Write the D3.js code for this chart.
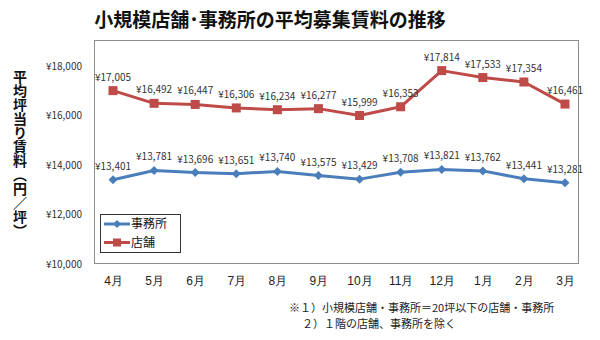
<!DOCTYPE html>
<html><head><meta charset="utf-8">
<script src="https://cdn.jsdelivr.net/npm/d3@7"></script>
<style>body{margin:0;background:#fff;} svg{display:block;font-family:"Noto Sans CJK JP","Noto Sans",sans-serif;}</style>
</head><body>
<svg id="c" width="600" height="340"></svg>
<script>
const months = ["4月","5月","6月","7月","8月","9月","10月","11月","12月","1月","2月","3月"];
const office = [13401,13781,13696,13651,13740,13575,13429,13708,13821,13762,13441,13281];
const store = [17005,16492,16447,16306,16234,16277,15999,16353,17814,17533,17354,16461];
const yTicks = [10000,12000,14000,16000,18000];
const seriesNames = ["事務所","店舗"];

const svg = d3.select("#c");
const fmt = v => "¥" + d3.format(",")(v);
const x = d3.scalePoint().domain(months).range([113,565]);
const y = d3.scaleLinear().domain([10000,18000]).range([264,66]);
const blue = "#4a7ebb", red = "#be4b48";

svg.append("text").attr("x",270).attr("y",27).attr("text-anchor","middle")
  .attr("font-size",19).attr("font-weight","bold").attr("fill","#111")
  .text("小規模店舗･事務所の平均募集賃料の推移");

svg.append("rect").attr("x",94.5).attr("y",40.5).attr("width",484).attr("height",223)
  .attr("fill","none").attr("stroke","#8c8c8c").attr("stroke-width",1);

// y axis labels
const ya = svg.append("g").attr("transform","translate(82,0)")
  .call(d3.axisLeft(y).tickValues(yTicks).tickFormat(fmt).tickSize(0).tickPadding(0));
ya.select(".domain").remove();
ya.selectAll("text").attr("font-size",10).attr("fill","#333").attr("font-family","Noto Sans CJK JP");

// x axis labels
const xa = svg.append("g").attr("transform","translate(0,274)")
  .call(d3.axisBottom(x).tickSize(0).tickPadding(0));
xa.select(".domain").remove();
xa.selectAll("text").attr("font-size",12).attr("fill","#222").attr("dy","0.9em");

// y title
svg.append("text").attr("x",20).attr("y",70)
  .attr("style","writing-mode:vertical-rl;")
  .attr("font-size",14).attr("font-weight","bold").attr("fill","#111")
  .text("平均坪当り賃料（円／坪）");

const line = d3.line().x((d,i)=>x(months[i])).y(d=>y(d));
function series(vals,color,shape){
  svg.append("path").datum(vals).attr("d",line).attr("fill","none")
    .attr("stroke",color).attr("stroke-width",3).attr("stroke-linejoin","round");
  const g = svg.append("g");
  vals.forEach((v,i)=>{
    const cx = x(months[i]), cy = y(v);
    if(shape==="sq"){
      g.append("rect").attr("x",cx-4.5).attr("y",cy-4.5).attr("width",9).attr("height",9).attr("fill",color);
    } else {
      g.append("path").attr("d",`M${cx},${cy-4.5}L${cx+4.5},${cy}L${cx},${cy+4.5}L${cx-4.5},${cy}Z`).attr("fill",color);
    }
    svg.append("text").attr("x",cx).attr("y",cy-10).attr("text-anchor","middle")
      .attr("font-size",10).attr("fill","#333").text(fmt(v));
  });
}
series(office,blue,"dia");
series(store,red,"sq");

// legend
const lg = svg.append("g");
lg.append("rect").attr("x",100.5).attr("y",214.5).attr("width",80).attr("height",38)
  .attr("fill","#fff").attr("stroke","#333").attr("stroke-width",1);
[[blue,"dia"],[red,"sq"]].forEach((s,i)=>{
  const yy = 224 + i*18.5;
  lg.append("line").attr("x1",104).attr("x2",130).attr("y1",yy).attr("y2",yy).attr("stroke",s[0]).attr("stroke-width",3);
  if(s[1]==="sq") lg.append("rect").attr("x",113).attr("y",yy-4).attr("width",8).attr("height",8).attr("fill",s[0]);
  else lg.append("path").attr("d",`M117,${yy-4}L121,${yy}L117,${yy+4}L113,${yy}Z`).attr("fill",s[0]);
  lg.append("text").attr("x",131).attr("y",yy).attr("dy","0.36em").attr("font-size",12).attr("fill","#111").text(seriesNames[i]);
});

// footnotes
svg.append("text").attr("x",289).attr("y",312).attr("font-size",11).attr("fill","#222")
  .text("※１）小規模店舗・事務所＝20坪以下の店舗・事務所");
svg.append("text").attr("x",302).attr("y",328).attr("font-size",11).attr("fill","#222")
  .text("２）１階の店舗、事務所を除く");
</script>
</body></html>
